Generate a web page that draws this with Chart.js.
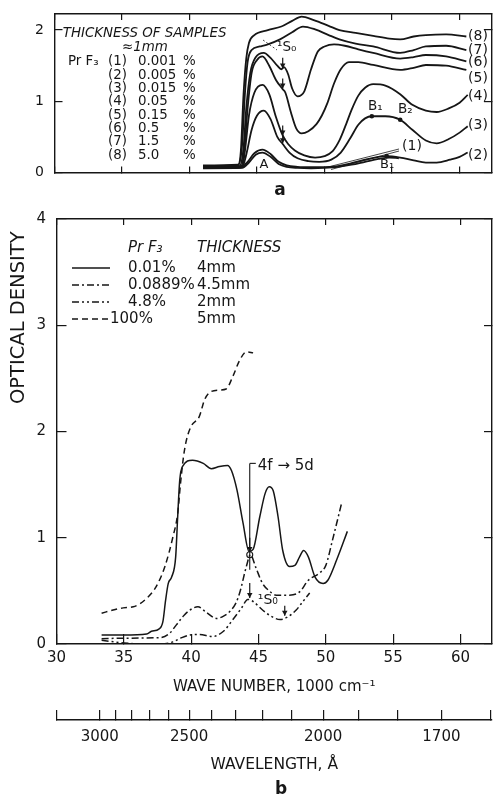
<!DOCTYPE html>
<html><head><meta charset="utf-8">
<script src="https://cdn.jsdelivr.net/npm/chart.js@4.4.1/dist/chart.umd.min.js"></script>
<style>
html,body{margin:0;padding:0;background:#fff;}
#wrap{position:relative;width:493px;height:797px;overflow:hidden;background:#fff;}
#ca{position:absolute;left:0;top:0;width:493px;height:200px;}
#cb{position:absolute;left:0;top:200px;width:493px;height:597px;}
</style></head><body>
<div id="wrap"><canvas id="ca" width="493" height="200"></canvas><canvas id="cb" width="493" height="597"></canvas></div>
<script>
const FAM = '"DejaVu Sans", "Liberation Sans", sans-serif';
const INK = '#161616';

// ---------- Panel a : PrF3, thickness ~1 mm ----------
const curveLabelsA = ['(1)','(2)','(3)','(4)','(5)','(6)','(7)','(8)'];
const concentrationsA = ['0.001','0.005','0.015','0.05','0.15','0.5','1.5','5.0'];
const curveA1 = [[41,0.06],[43.9,0.065],[44.4,0.14],[44.9,0.25],[45.4,0.28],[46.0,0.22],[46.6,0.12],[47.2,0.08],[48.0,0.065],[49.0,0.06],[50.0,0.065],[51.0,0.08],[52.0,0.11],[53.0,0.15],[54.0,0.19],[54.8,0.21],[55.5,0.2]];
const curveA2 = [[41,0.065],[43.8,0.07],[44.3,0.15],[44.8,0.27],[45.4,0.32],[46.0,0.26],[46.6,0.15],[47.2,0.10],[48.0,0.08],[49.0,0.075],[50.0,0.075],[51.0,0.09],[52.0,0.13],[53.0,0.18],[54.0,0.22],[54.6,0.23],[55.6,0.21],[56.6,0.17],[57.5,0.14],[58.3,0.14],[59.3,0.18],[60.0,0.22],[60.6,0.28]];
const curveA3 = [[41,0.07],[43.9,0.075],[44.2,0.25],[44.6,0.6],[45.0,0.8],[45.5,0.87],[46.0,0.75],[46.5,0.5],[46.9,0.4],[47.4,0.28],[48.0,0.2],[48.8,0.16],[49.6,0.15],[50.5,0.18],[51.2,0.28],[51.9,0.48],[52.5,0.67],[53.0,0.76],[53.5,0.79],[54.5,0.79],[55.6,0.74],[56.5,0.6],[57.5,0.45],[58.3,0.41],[59.2,0.47],[60.0,0.56],[60.6,0.65]];
const curveA4 = [[41,0.075],[43.9,0.08],[44.1,0.3],[44.4,0.8],[44.8,1.12],[45.4,1.23],[45.9,1.1],[46.4,0.78],[46.9,0.52],[47.3,0.40],[47.8,0.31],[48.5,0.24],[49.3,0.21],[50.0,0.23],[50.6,0.3],[51.1,0.45],[51.6,0.68],[52.0,0.88],[52.5,1.08],[53.0,1.19],[53.6,1.24],[54.5,1.22],[55.6,1.1],[56.5,0.95],[57.5,0.87],[58.3,0.85],[59.2,0.9],[60.0,0.98],[60.6,1.09]];
const curveA5 = [[41,0.08],[43.8,0.085],[44.05,0.3],[44.3,0.9],[44.6,1.4],[45.0,1.58],[45.4,1.63],[45.9,1.5],[46.4,1.3],[46.9,1.17],[47.1,1.12],[47.5,0.85],[47.9,0.62],[48.3,0.55],[48.8,0.58],[49.4,0.68],[49.8,0.8],[50.2,0.97],[50.7,1.25],[51.2,1.45],[51.8,1.55],[52.5,1.55],[53.6,1.51],[55.6,1.44],[56.6,1.47],[57.5,1.51],[59.0,1.50],[60.5,1.44]];
const curveA6 = [[41,0.085],[43.7,0.09],[44.0,0.35],[44.2,0.9],[44.5,1.4],[44.9,1.62],[45.5,1.68],[46.0,1.61],[46.5,1.5],[46.8,1.45],[47.0,1.48],[47.3,1.38],[47.6,1.18],[48.0,1.07],[48.5,1.14],[49.0,1.45],[49.5,1.70],[50.0,1.77],[50.7,1.80],[51.5,1.78],[52.5,1.73],[53.6,1.68],[55.6,1.60],[56.6,1.62],[57.5,1.65],[59.0,1.63],[60.5,1.56]];
const curveA7 = [[41,0.09],[43.6,0.10],[43.9,0.4],[44.1,1.1],[44.3,1.55],[44.6,1.72],[45.2,1.77],[45.8,1.80],[46.7,1.87],[47.6,1.97],[48.4,2.05],[49.3,2.01],[50.3,1.93],[51.1,1.87],[52.3,1.81],[53.6,1.77],[55.6,1.68],[56.6,1.72],[57.5,1.77],[59.0,1.78],[60.5,1.72]];
const curveA8 = [[41,0.10],[43.6,0.11],[43.8,0.3],[44.0,1.1],[44.2,1.6],[44.4,1.82],[44.8,1.93],[45.8,2.0],[46.8,2.05],[47.6,2.13],[48.3,2.19],[49.2,2.14],[50.3,2.06],[51.1,2.0],[52.3,1.96],[53.6,1.92],[54.8,1.88],[55.6,1.87],[56.6,1.91],[57.5,1.93],[59.0,1.94],[60.5,1.91]];

// ---------- Panel b ----------
const seriesNamesB = ['0.01%','0.0889%','4.8%','100%'];
const thicknessB = ['4mm','4.5mm','2mm','5mm'];
const curveB1 = [[33.35,0.085],[35,0.085],[36.7,0.094],[37.05,0.12],[37.6,0.14],[37.9,0.21],[38.1,0.41],[38.3,0.57],[38.55,0.63],[38.85,0.82],[39.0,1.2],[39.15,1.54],[39.35,1.67],[40.1,1.73],[40.9,1.70],[41.5,1.65],[42.1,1.67],[42.7,1.68],[43.0,1.63],[43.4,1.45],[43.85,1.14],[44.3,0.87],[44.6,0.89],[45.1,1.2],[45.5,1.42],[45.8,1.48],[46.1,1.44],[46.45,1.2],[46.8,0.88],[47.3,0.73],[47.7,0.74],[48.05,0.82],[48.35,0.88],[48.7,0.82],[49.2,0.63],[49.8,0.57],[50.15,0.6],[50.8,0.79],[51.6,1.06]];
const curveB2 = [[33.35,0.05],[35,0.055],[37.7,0.06],[38.4,0.1],[38.9,0.18],[39.4,0.26],[39.8,0.31],[40.5,0.35],[41.1,0.30],[41.9,0.24],[42.5,0.27],[42.9,0.31],[43.3,0.38],[43.6,0.48],[44.1,0.73],[44.4,0.84],[44.8,0.72],[45.3,0.57],[45.8,0.5],[46.3,0.46],[47.3,0.46],[48.05,0.49],[48.7,0.6],[49.55,0.67],[50.0,0.74],[50.5,0.98],[51.2,1.34]];
const curveB3 = [[33.35,0.035],[35,0.01],[36.5,0.0],[37.8,0.0],[38.65,0.02],[39.3,0.06],[39.9,0.085],[40.6,0.09],[41.6,0.07],[42.4,0.12],[43.1,0.23],[43.75,0.34],[44.2,0.42],[44.6,0.4],[45.3,0.32],[45.95,0.26],[46.6,0.23],[47.1,0.25],[47.8,0.32],[48.3,0.4],[48.8,0.48]];
const curveB4 = [[33.35,0.29],[34.2,0.32],[34.95,0.34],[35.7,0.35],[36.7,0.43],[37.4,0.54],[38.05,0.73],[38.65,1.01],[39.0,1.23],[39.2,1.5],[39.45,1.78],[39.65,1.92],[40.0,2.05],[40.6,2.14],[41.0,2.30],[41.4,2.37],[42.1,2.39],[42.6,2.40],[43.1,2.52],[43.6,2.67],[44.1,2.75],[44.6,2.74]];

// ---------- Axis ticks ----------
const waveNumberTicks = [30,35,40,45,50,55,60];
const densityTicksA = [0,1,2];
const densityTicksB = [0,1,2,3,4];
const wavelengthTicks = [3000,2900,2800,2700,2600,2500,2400,2300,2200,2100,2000,1900,1800,1700,1600];
const wavelengthLabels = [3000,2500,2000,1700];

const seriesA = [curveA1,curveA2,curveA3,curveA4,curveA5,curveA6,curveA7,curveA8];
const seriesB = [curveB1,curveB2,curveB3,curveB4];
const DASHES = [[],[7,3,2,3],[7,3,2,3,2,3],[6,4]];

const pts = a => a.map(([x,y]) => ({x, y}));
const setTicks = list => s => { s.ticks = list.filter(v => v >= s.min && v <= s.max).map(v => ({value: v})); };
const inwardGrid = len => ({display:true, drawOnChartArea:false, drawTicks:true, tickLength:-len, color:INK, lineWidth:1.2});
const BORDER = {display:true, color:INK, width:1.4};
const fixH = h => s => { s.height = h; s.paddingLeft = 0; s.paddingRight = 0; };
const fixW = w => s => { s.width = w; s.paddingTop = 0; s.paddingBottom = 0; };

const notesPlugin = {
  id: 'notes',
  afterDraw(chart, args, opts) {
    const ctx = chart.ctx, xs = chart.scales.x, ys = chart.scales.y;
    const P = (d, x, y) => d ? [xs.getPixelForValue(x), ys.getPixelForValue(y)] : [x, y];
    ctx.save();
    ctx.fillStyle = INK; ctx.strokeStyle = INK; ctx.lineCap = 'butt';
    (opts.lines || []).forEach(l => {
      const [x1, y1] = P(l.data, l.x1, l.y1), [x2, y2] = P(l.data, l.x2, l.y2);
      ctx.setLineDash(l.dash || []); ctx.lineWidth = l.w || 1;
      ctx.beginPath(); ctx.moveTo(x1, y1); ctx.lineTo(x2, y2); ctx.stroke();
    });
    ctx.setLineDash([]);
    (opts.arrows || []).forEach(a => {
      const x = xs.getPixelForValue(a.x), y1 = ys.getPixelForValue(a.y1), y2 = ys.getPixelForValue(a.y2);
      ctx.lineWidth = a.w || 1.2;
      ctx.beginPath(); ctx.moveTo(x, y1); ctx.lineTo(x, y2); ctx.stroke();
      const h = a.head || 5, dir = y2 > y1 ? 1 : -1;
      ctx.beginPath(); ctx.moveTo(x, y2); ctx.lineTo(x - h * 0.55, y2 - dir * h); ctx.lineTo(x + h * 0.55, y2 - dir * h); ctx.closePath(); ctx.fill();
    });
    (opts.dots || []).forEach(d => {
      const [x, y] = P(true, d.x, d.y);
      ctx.beginPath(); ctx.arc(x, y, d.r || 2.3, 0, Math.PI * 2); ctx.fill();
    });
    (opts.circles || []).forEach(d => {
      const [x, y] = P(true, d.x, d.y);
      ctx.lineWidth = 1.1; ctx.beginPath(); ctx.arc(x, y, d.r || 3, 0, Math.PI * 2); ctx.stroke();
    });
    (opts.legendLines || []).forEach(l => {
      ctx.setLineDash(l.dash); ctx.lineWidth = 1.5;
      ctx.beginPath(); ctx.moveTo(l.x1, l.y); ctx.lineTo(l.x2, l.y); ctx.stroke();
    });
    ctx.setLineDash([]);
    (opts.texts || []).forEach(t => {
      const [x, y] = P(t.data, t.x, t.y);
      ctx.font = (t.italic ? 'italic ' : '') + (t.bold ? 'bold ' : '') + t.size + 'px ' + FAM;
      ctx.textAlign = t.align || 'left'; ctx.textBaseline = 'middle';
      ctx.fillText(t.t, x, y);
    });
    ctx.restore();
  }
};

// ---------- Notes for panel a ----------
const endLabelPosA = [[55.74,0.362],[60.63,0.246],[60.63,0.667],[60.63,1.074],[60.63,1.323],[60.63,1.548],[60.63,1.72],[60.63,1.917]];
const textsA = [
  {t:'THICKNESS OF SAMPLES', x:62.7, y:34, size:13.4, italic:true},
  {t:'≈1mm', x:122, y:47.5, size:13.4, italic:true},
  {t:'Pr F₃', x:68, y:62, size:13.4},
  {t:'¹S₀', data:true, x:46.48, y:1.75, size:13.5},
  {t:'A', data:true, x:45.52, y:0.105, size:13, align:'center'},
  {t:'B₁', data:true, x:53.22, y:0.924, size:13.5},
  {t:'B₂', data:true, x:55.44, y:0.878, size:13.5},
  {t:'B₁', data:true, x:54.11, y:0.105, size:13},
  {t:'a', x:280, y:191, size:17, bold:true, align:'center'}
];
curveLabelsA.forEach((lab, i) => {
  const y = 62 + 13.3 * i;
  textsA.push({t:lab, x:127, y, size:13.4, align:'right'});
  textsA.push({t:concentrationsA[i], x:138, y, size:13.4});
  textsA.push({t:'%', x:183, y, size:13.4});
  textsA.push({t:lab, data:true, x:endLabelPosA[i][0], y:endLabelPosA[i][1], size:14});
});

new Chart(document.getElementById('ca'), {
  type: 'line',
  data: {datasets: seriesA.map((d, i) => ({label: curveLabelsA[i], data: pts(d), borderColor: INK, borderWidth: 1.8, pointRadius: 0, fill: false, cubicInterpolationMode: 'monotone'}))},
  options: {
    responsive: false, animation: false, events: [],
    layout: {padding: {top: 14, right: 1, bottom: 0, left: 0}},
    plugins: {
      legend: {display: false}, tooltip: {enabled: false},
      notes: {
        texts: textsA,
        arrows: [{x:46.9,y1:1.61,y2:1.46},{x:46.9,y1:1.32,y2:1.18},{x:46.9,y1:0.66,y2:0.52},{x:46.9,y1:0.53,y2:0.41}],
        dots: [{x:53.5,y:0.79},{x:55.6,y:0.74},{x:54.6,y:0.23}],
        lines: [{x1:263,y1:40,x2:277,y2:50,dash:[2,2],w:0.8},{x1:399,y1:149,x2:326,y2:167.5,w:0.8},{x1:399,y1:151,x2:331,y2:169.5,w:0.8}]
      }
    },
    scales: {
      x: {type:'linear', min:30, max:62.4, afterBuildTicks:setTicks(waveNumberTicks), ticks:{display:false}, grid:inwardGrid(6), border:BORDER, afterFit:fixH(27.5)},
      xTop: {type:'linear', position:'top', min:30, max:62.4, afterBuildTicks:setTicks(waveNumberTicks), ticks:{display:false}, grid:inwardGrid(6), border:BORDER, afterFit:fixH(0)},
      y: {type:'linear', min:0, max:2.226, afterBuildTicks:setTicks(densityTicksA), ticks:{padding:18.5, color:INK, font:{family:FAM, size:14}}, grid:inwardGrid(8), border:BORDER, afterFit:fixW(54.5)},
      yRight: {type:'linear', position:'right', min:0, max:2.226, afterBuildTicks:setTicks(densityTicksA), ticks:{display:false}, grid:inwardGrid(8), border:BORDER, afterFit:fixW(0)}
    }
  },
  plugins: [notesPlugin]
});

// ---------- Notes for panel b ----------
const nameXB = [128,128,128,110];
const textsB = [
  {t:'Pr F₃', x:128, y:48.3, size:15, italic:true},
  {t:'THICKNESS', x:197, y:48, size:15, italic:true},
  {t:'4f → 5d', data:true, x:44.95, y:1.675, size:15},
  {t:'¹S₀', data:true, x:44.95, y:0.414, size:14},
  {t:'b', x:281, y:590, size:17, bold:true, align:'center'}
];
const legendLinesB = [];
seriesNamesB.forEach((n, i) => {
  const y = 68 + 17 * i;
  textsB.push({t:n, x:nameXB[i], y, size:15});
  textsB.push({t:thicknessB[i], x:197, y, size:15});
  legendLinesB.push({x1:72, x2:110, y, dash:DASHES[i]});
});

new Chart(document.getElementById('cb'), {
  type: 'line',
  data: {datasets: seriesB.map((d, i) => ({label: seriesNamesB[i] + ' ' + thicknessB[i], data: pts(d), borderColor: INK, borderWidth: 1.5, borderDash: DASHES[i], pointRadius: 0, fill: false, cubicInterpolationMode: 'monotone'}))},
  options: {
    responsive: false, animation: false, events: [],
    layout: {padding: {top: 19, right: 1, bottom: 0, left: 0}},
    plugins: {
      legend: {display: false}, tooltip: {enabled: false},
      notes: {
        texts: textsB,
        legendLines: legendLinesB,
        lines: [{data:true,x1:44.35,y1:1.70,x2:44.35,y2:0.70,w:1.1},{data:true,x1:44.35,y1:1.70,x2:44.8,y2:1.70,w:1.1}],
        arrows: [{x:44.35,y1:1.0,y2:0.865},{x:44.35,y1:0.574,y2:0.433},{x:46.95,y1:0.36,y2:0.265}],
        circles: [{x:44.35,y:0.84,r:3}]
      }
    },
    scales: {
      x: {type:'linear', min:30, max:62.34, afterBuildTicks:setTicks(waveNumberTicks),
          ticks:{padding:15, color:INK, font:{family:FAM, size:15}, maxRotation:0},
          grid:inwardGrid(10), border:BORDER,
          title:{display:true, text:'WAVE NUMBER, 1000 cm⁻¹', color:INK, font:{family:FAM, size:15}, padding:{top:0, bottom:24}},
          afterFit:fixH(76)},
      x2: {type:'linear', position:'bottom', weight:1, min:30.1, max:62.6,
          afterBuildTicks:s => { s.ticks = [s.min].concat(wavelengthTicks.map(l => 1e5 / l)).filter(v => v >= s.min && v <= s.max).map(v => ({value: v})); },
          ticks:{autoSkip:false, maxRotation:0, padding:18, color:INK, font:{family:FAM, size:15},
                 callback:v => { const l = Math.round(1e5 / v / 10) * 10; return wavelengthLabels.includes(l) ? String(l) : ''; }},
          grid:inwardGrid(10), border:BORDER,
          title:{display:true, text:'WAVELENGTH, Å', color:INK, font:{family:FAM, size:15.5}, padding:{top:0, bottom:22.7}},
          afterFit:fixH(77)},
      xTop: {type:'linear', position:'top', min:30, max:62.34, afterBuildTicks:setTicks(waveNumberTicks), ticks:{display:false}, grid:inwardGrid(6), border:BORDER, afterFit:fixH(0)},
      y: {type:'linear', min:0, max:4, afterBuildTicks:setTicks(densityTicksB),
          ticks:{padding:20.5, color:INK, font:{family:FAM, size:15}},
          grid:inwardGrid(10), border:BORDER,
          title:{display:true, text:'OPTICAL DENSITY  ', align:'end', color:INK, font:{family:FAM, size:19.5}, padding:{top:7.6, bottom:0}},
          afterFit:fixW(56.5)},
      yRight: {type:'linear', position:'right', min:0, max:4, afterBuildTicks:setTicks(densityTicksB), ticks:{display:false}, grid:inwardGrid(8), border:BORDER, afterFit:fixW(0)}
    }
  },
  plugins: [notesPlugin]
});
</script>
</body></html>
